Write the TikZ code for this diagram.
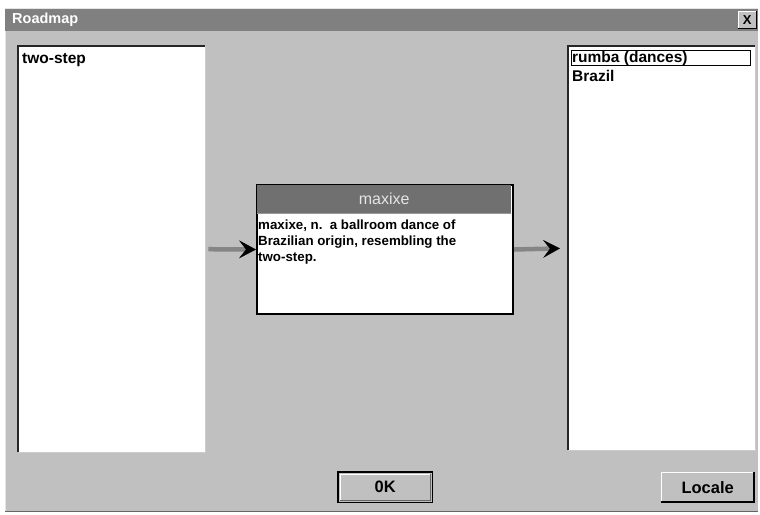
\documentclass[tikz,border=0pt]{standalone}
\usepackage{fontspec}
\setmainfont{Liberation Sans}
\usetikzlibrary{arrows.meta}
\definecolor{winbg}{HTML}{C0C0C0}
\definecolor{titlebg}{HTML}{808080}
\definecolor{headbg}{HTML}{707070}
\definecolor{shaftc}{HTML}{858585}
\tikzset{
  listbox/.style={draw=none, fill=white, anchor=north west, inner sep=0pt},
  listtext/.style={anchor=north west, inner sep=0pt, font=\fontsize{15.5}{17}\selectfont\bfseries},
  btn/.style={fill=winbg, draw=none, anchor=north west, inner sep=0pt, font=\fontsize{16.5}{18}\selectfont\bfseries},
  arr/.style={draw=shaftc, line width=4.5pt, -{Stealth[length=17pt,width=18pt,inset=7pt,color=black,line width=0.5pt]}},
}
\begin{document}
\begin{tikzpicture}[x=1pt,y=-1pt]
\useasboundingbox (0,0) rectangle (760,514);
\fill[white] (0,0) rectangle (760,514);
% window
\fill[winbg] (5,8) rectangle (758,511);
\draw[white!90!black, line width=1pt] (5.5,511) -- (5.5,8.5) -- (758,8.5);
\draw[black!60, line width=1pt] (5,511.5) -- (758,511.5);
% title bar
\node[fill=titlebg, anchor=north west, minimum width=753pt, minimum height=22pt, inner sep=0pt] (title) at (5,9) {};
\node[anchor=west, text=white, font=\fontsize{14.5}{15}\selectfont\bfseries, inner sep=0pt] (titletext) at (12,20) {Roadmap};
\node[fill=winbg, anchor=north west, minimum width=18pt, minimum height=17pt, inner sep=0pt, font=\fontsize{13}{14}\selectfont\bfseries] (close) at (738,11) {X};
\draw[white, line width=1pt] (close.south west) -- (close.north west) -- (close.north east);
\draw[black, line width=1pt] (close.north east) -- (close.south east) -- (close.south west);
% left list
\node[listbox, minimum width=187pt, minimum height=406pt] (leftlist) at (18,46) {};
\draw[black!85, line width=2pt] (leftlist.south west) -- (leftlist.north west) -- (leftlist.north east);
\draw[black!20, line width=1.5pt] (leftlist.north east) -- (leftlist.south east) -- (leftlist.south west);
\node[listtext] (twostep) at (22,53) {two-step};
% right list
\node[listbox, minimum width=187pt, minimum height=404pt] (rightlist) at (568,46) {};
\draw[black!85, line width=2pt] (rightlist.south west) -- (rightlist.north west) -- (rightlist.north east);
\draw[black!20, line width=1.5pt] (rightlist.north east) -- (rightlist.south east) -- (rightlist.south west);
\node[anchor=north west, draw=black, line width=0.8pt, minimum width=179pt, minimum height=15pt, inner sep=0pt] (sel) at (571,50) {};
\node[listtext] (rumba) at (572,51) {rumba (dances)};
\node[listtext] (brazil) at (572,70) {Brazil};
% center box
\draw[black!25, line width=1.5pt] (514.5,187) -- (514.5,315.5) -- (259,315.5);
\node[anchor=north west, fill=white, draw=black, line width=2pt, minimum width=256pt, minimum height=129pt, inner sep=0pt] (def) at (256,184) {};
\node[anchor=north west, fill=headbg, minimum width=254pt, minimum height=28pt, inner sep=0pt, text=white!90!black, font=\fontsize{16}{17}\selectfont] (head) at (257,185) {maxixe};
\draw[black!40, line width=1pt] (head.south west) -- (head.south east);
\node[anchor=north west, inner sep=0pt, align=left, font=\fontsize{13.3}{16}\selectfont\bfseries] (deftext) at (258,220) {maxixe, n.\ \ a ballroom dance of\\Brazilian origin, resembling the\\two-step.};
% arrows
\draw[arr, shorten <=3pt] (leftlist.east) -- (def.west);
\draw[arr, shorten >=8pt] (def.east) -- (rightlist.west);
% buttons
\node[btn, minimum width=94pt, minimum height=30pt] (ok) at (338,472) {0K};
\draw[black, line width=1.2pt] (ok.north west) rectangle (ok.south east);
\draw[white, line width=1pt] ([shift={(2,-2)}]ok.south west) -- ([shift={(2,2)}]ok.north west) -- ([shift={(-2,2)}]ok.north east);
\draw[black!60, line width=1pt] ([shift={(-2,2)}]ok.north east) -- ([shift={(-2,-2)}]ok.south east) -- ([shift={(2,-2)}]ok.south west);
\node[btn, minimum width=93pt, minimum height=30pt] (locale) at (661,472) {Locale};
\draw[white, line width=1pt] (locale.south west) -- (locale.north west) -- (locale.north east);
\draw[black, line width=2pt] (locale.north east) -- (locale.south east) -- (locale.south west);
\end{tikzpicture}
\end{document}
